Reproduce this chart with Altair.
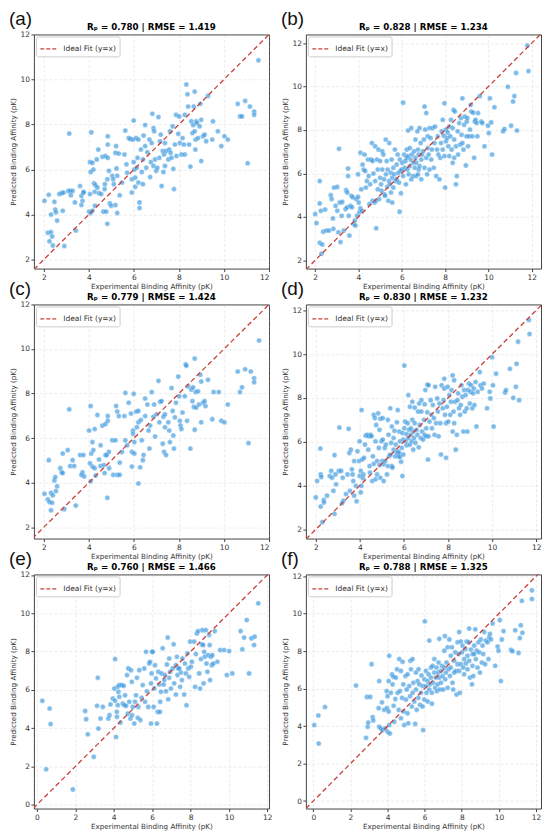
import altair as alt
import pandas as pd

# ---------------- data ----------------
labels = ["(a)", "(b)", "(c)", "(d)", "(e)", "(f)"]
titles = [
    "Rₚ = 0.780 | RMSE = 1.419",
    "Rₚ = 0.828 | RMSE = 1.234",
    "Rₚ = 0.779 | RMSE = 1.424",
    "Rₚ = 0.830 | RMSE = 1.232",
    "Rₚ = 0.760 | RMSE = 1.466",
    "Rₚ = 0.788 | RMSE = 1.325",
]
x_domains = [[1.56, 12.0], [1.57, 12.43], [1.56, 12.0], [1.55, 12.22], [-0.16, 12.09], [-0.4, 12.27]]
y_domains = [[1.6, 12.0], [1.62, 12.4], [1.49, 12.0], [1.58, 12.27], [-0.2, 12.03], [-0.4, 12.1]]
ticks_abcd = [2, 4, 6, 8, 10, 12]
ticks_ef = [0, 2, 4, 6, 8, 10, 12]

points_a = [
(2.03,4.61),(2.22,4.88),(2.18,3.19),(2.32,3.22),(2.25,2.81),(2.37,3.03),(2.40,2.63),(2.32,4.0),(2.47,4.57),(2.51,4.22),
(2.54,4.1),(2.59,3.73),(2.69,4.91),(2.79,4.95),(2.88,4.98),(2.84,4.17),(2.91,2.6),(3.09,5.05),(3.17,5.05),(3.28,5.05),
(3.2,4.86),(3.13,7.6),(3.38,4.54),(3.42,3.29),(3.61,5.27),(3.67,4.83),(3.72,4.61),(3.67,4.42),(3.76,5.01),(3.77,4.98),
(4.05,4.91),(4.01,4.13),(4.08,4.07),(4.16,4.17),(4.11,7.65),(4.05,6.33),(4.16,6.3),(4.08,5.89),(4.2,6.0),(4.23,5.39),
(4.3,5.3),(4.26,5.01),(4.27,4.39),(4.35,6.45),(4.42,6.89),(4.38,5.2),(4.45,4.95),(4.55,4.91),(4.6,6.57),(4.64,4.13),
(4.7,5.13),(4.74,6.6),(4.71,5.35),(4.77,4.13),(4.82,3.59),(4.84,7.48),(4.84,7.11),(4.84,6.52),(4.82,5.57),(4.89,5.94),
(4.93,4.5),(5.04,5.72),(5.08,5.57),(4.99,4.39),(5.11,5.35),(5.18,4.42),(5.21,7.04),(5.18,6.74),(5.23,6.05),(5.26,5.72),
(5.26,4.07),(5.33,6.71),(5.37,4.86),(5.47,5.42),(5.58,6.67),(5.62,7.73),(5.67,6.23),(5.7,5.86),(5.77,7.4),(5.84,7.36),
(5.91,4.98),(5.91,5.57),(5.96,7.33),(5.99,8.18),(5.99,6.33),(6.02,6.0),(6.06,5.64),(6.06,5.23),(6.1,7.4),(6.13,6.08),
(6.16,6.52),(6.2,7.33),(6.2,5.42),(6.25,4.54),(6.25,4.29),(6.31,6.89),(6.35,5.89),(6.4,6.45),(6.4,5.35),(6.43,7.51),
(6.5,7.98),(6.5,7.04),(6.55,6.08),(6.6,6.77),(6.69,7.33),(6.72,5.67),(6.75,6.33),(6.79,7.18),(6.82,8.48),(6.87,7.84),
(6.9,7.7),(6.94,6.45),(6.87,6.16),(6.99,5.94),(7.04,6.08),(7.09,8.33),(7.13,6.52),(7.16,7.25),(7.19,7.55),(7.23,5.27),
(7.28,6.82),(7.31,5.89),(7.34,6.67),(7.38,7.18),(7.38,6.16),(7.43,6.82),(7.53,6.45),(7.57,6.89),(7.6,7.7),(7.63,6.74),
(7.67,6.52),(7.72,7.92),(7.75,6.03),(7.78,5.13),(7.82,7.11),(7.87,8.43),(7.89,6.6),(7.97,7.59),(8.01,8.36),(8.04,7.18),
(8.11,6.67),(8.16,7.4),(8.22,7.11),(8.26,8.43),(8.26,6.67),(8.33,9.78),(8.38,9.34),(8.41,8.8),(8.45,7.11),(8.51,6.13),
(8.55,8.14),(8.6,7.62),(8.63,7.98),(8.66,8.8),(8.7,9.46),(8.7,7.7),(8.73,6.89),(8.74,7.33),(8.77,8.14),(8.8,8.06),
(8.85,7.4),(8.92,7.92),(8.95,8.92),(8.99,8.21),(8.99,6.38),(9.07,7.48),(9.14,7.55),(9.21,7.26),(9.29,9.27),(9.48,7.33),
(9.51,8.14),(9.73,7.7),(9.88,7.04),(10.02,7.48),(10.17,7.33),(10.61,8.92),(10.71,8.36),(10.8,8.36),(10.94,9.05),(11.05,6.28),
(11.15,8.8),(11.34,8.58),(11.34,8.43),(11.53,10.85),
]

points_b = [
(2.0,4.13),(2.06,3.72),(2.21,5.65),(2.21,4.62),(2.26,4.28),(2.21,2.81),(2.33,2.73),(2.29,2.3),(2.37,3.32),(2.46,4.34),
(2.52,3.37),(2.64,3.37),(2.72,5.0),(2.76,4.82),(2.82,3.93),(2.84,3.45),(2.87,5.35),(2.94,4.51),(3.02,5.38),(3.02,4.28),
(3.07,3.29),(3.1,7.14),(3.13,4.66),(3.17,2.84),(3.22,4.05),(3.25,4.69),(3.32,3.37),(3.4,4.36),(3.43,5.23),(3.48,5.12),
(3.48,4.44),(3.52,6.23),(3.52,5.88),(3.55,4.05),(3.58,3.14),(3.63,4.51),(3.67,4.97),(3.7,4.44),(3.74,4.9),(3.78,3.67),
(3.83,3.83),(3.86,3.6),(3.89,4.82),(3.93,4.05),(3.98,5.96),(3.98,4.92),(4.01,4.66),(4.04,4.21),(4.09,6.95),(4.09,4.39),
(4.13,5.27),(4.16,4.28),(4.19,6.41),(4.24,6.18),(4.28,6.87),(4.31,6.11),(4.34,5.35),(4.39,5.65),(4.44,6.64),(4.47,5.88),
(4.5,4.59),(4.54,5.5),(4.59,6.64),(4.62,7.4),(4.65,4.74),(4.65,6.57),(4.69,6.0),(4.74,4.66),(4.77,7.25),(4.77,5.65),
(4.8,4.74),(4.82,3.48),(4.85,6.64),(4.89,5.27),(4.89,6.18),(4.92,7.1),(4.95,4.82),(5.0,6.57),(5.0,5.8),(5.04,5.5),
(5.07,5.2),(5.1,7.02),(5.1,6.18),(5.15,6.87),(5.18,5.73),(5.2,5.04),(5.23,4.97),(5.26,7.56),(5.27,5.96),(5.3,6.57),
(5.33,5.39),(5.35,6.18),(5.38,4.74),(5.41,5.65),(5.42,7.4),(5.45,5.5),(5.49,6.03),(5.5,5.12),(5.53,6.64),(5.56,5.8),
(5.56,4.66),(5.61,6.26),(5.61,5.35),(5.65,5.96),(5.68,7.1),(5.71,5.65),(5.76,6.41),(5.76,5.73),(5.81,6.87),(5.84,6.03),
(5.87,5.58),(5.9,4.24),(5.91,6.64),(5.94,6.11),(5.96,5.09),(5.99,6.18),(6.02,6.49),(6.06,9.26),(6.06,5.88),(6.11,6.87),
(6.14,6.26),(6.17,6.57),(6.19,5.5),(6.22,6.72),(6.23,7.1),(6.26,6.18),(6.29,7.98),(6.29,6.8),(6.32,5.96),(6.37,6.34),
(6.37,7.17),(6.41,6.64),(6.44,8.09),(6.44,5.73),(6.47,6.87),(6.52,5.88),(6.52,6.49),(6.57,7.02),(6.6,6.26),(6.63,7.56),
(6.63,6.72),(6.67,5.88),(6.67,6.49),(6.72,7.94),(6.75,7.1),(6.75,5.96),(6.78,6.87),(6.78,6.18),(6.82,6.34),(6.82,8.09),
(6.87,7.4),(6.9,5.73),(6.9,6.64),(6.93,6.87),(6.98,7.02),(7.02,7.56),(7.05,6.26),(7.05,9.08),(7.08,8.02),(7.13,6.72),
(7.13,8.78),(7.17,5.96),(7.2,7.71),(7.2,7.17),(7.24,6.87),(7.28,8.09),(7.28,6.18),(7.33,7.63),(7.36,6.64),(7.39,7.1),
(7.43,8.09),(7.48,6.26),(7.51,7.4),(7.54,8.16),(7.59,5.88),(7.63,7.1),(7.66,7.71),(7.69,6.87),(7.74,5.73),(7.78,6.72),
(7.81,7.4),(7.84,7.94),(7.89,8.47),(7.89,7.1),(7.94,7.74),(7.97,9.23),(7.97,6.8),(8.0,5.35),(8.04,7.48),(8.04,8.02),
(8.09,7.63),(8.12,7.89),(8.15,7.25),(8.19,8.16),(8.19,6.8),(8.24,7.71),(8.27,8.47),(8.3,7.1),(8.35,8.09),(8.35,6.49),
(8.39,8.93),(8.42,6.72),(8.42,7.56),(8.45,8.85),(8.5,7.25),(8.5,5.5),(8.54,5.88),(8.58,7.94),(8.6,6.87),(8.65,8.32),
(8.7,7.33),(8.73,8.55),(8.76,7.78),(8.8,9.46),(8.8,7.4),(8.85,7.1),(8.88,8.24),(8.91,8.62),(8.96,6.37),(8.99,7.71),
(9.0,8.39),(9.03,8.55),(9.06,7.25),(9.11,7.71),(9.15,8.02),(9.18,9.15),(9.21,8.85),(9.26,7.71),(9.3,8.8),(9.34,6.72),
(9.37,8.39),(9.41,8.47),(9.46,8.32),(9.49,7.71),(9.52,8.78),(9.61,9.56),(9.67,8.39),(9.72,8.32),(9.82,7.25),(9.98,8.2),
(10.02,7.86),(10.07,9.46),(10.13,8.35),(10.17,6.87),(10.28,9.05),(10.68,7.94),(10.74,8.05),(10.9,9.99),(11.05,8.2),(11.14,9.31),
(11.2,9.56),(11.28,10.63),(11.32,7.98),(11.8,11.89),(11.85,10.72),
]

points_c = [
(2.03,3.5),(2.22,5.01),(2.18,3.25),(2.25,3.13),(2.32,2.76),(2.37,3.1),(2.32,3.54),(2.4,3.43),(2.47,4.1),(2.51,4.25),
(2.54,3.62),(2.59,3.84),(2.73,4.65),(2.79,4.46),(2.84,5.31),(2.91,2.81),(2.84,4.43),(3.06,5.46),(3.13,7.29),(3.17,4.75),
(3.28,5.01),(3.35,4.75),(3.42,2.97),(3.61,5.24),(3.72,4.46),(3.76,5.24),(3.67,4.35),(3.79,4.28),(4.01,6.34),(4.08,7.44),
(4.05,4.87),(4.08,4.06),(4.11,5.31),(4.16,5.82),(4.16,4.72),(4.2,5.46),(4.26,6.41),(4.26,4.65),(4.3,4.32),(4.38,7.04),
(4.45,5.04),(4.52,5.68),(4.52,4.75),(4.6,6.56),(4.67,4.79),(4.7,4.43),(4.74,5.24),(4.74,6.63),(4.79,5.24),(4.82,3.32),
(4.84,6.99),(4.84,6.78),(4.89,5.38),(4.9,4.65),(5.04,5.9),(5.08,4.35),(5.18,5.9),(5.21,7.44),(5.26,7.19),(5.26,4.35),
(5.33,6.99),(5.37,4.35),(5.37,4.9),(5.47,5.38),(5.58,6.99),(5.62,8.03),(5.62,5.9),(5.7,5.68),(5.77,7.59),(5.87,7.1),
(5.91,4.72),(5.91,5.38),(5.96,6.34),(5.96,6.19),(5.99,7.99),(6.02,5.82),(6.02,5.31),(6.1,7.19),(6.13,6.49),(6.2,7.22),
(6.2,6.71),(6.2,3.96),(6.28,4.69),(6.31,6.81),(6.35,5.9),(6.4,5.01),(6.43,5.24),(6.5,7.78),(6.5,6.99),(6.6,7.51),
(6.65,6.34),(6.69,5.53),(6.72,6.56),(6.79,8.07),(6.87,6.96),(6.9,7.51),(6.94,6.07),(7.01,7.07),(7.09,8.57),(7.13,6.71),
(7.16,7.63),(7.23,7.66),(7.28,5.75),(7.31,6.96),(7.34,5.38),(7.38,7.07),(7.38,6.49),(7.43,5.24),(7.53,6.71),(7.57,6.34),
(7.6,5.82),(7.67,8.25),(7.72,7.22),(7.75,6.12),(7.78,5.53),(7.82,6.93),(7.87,7.59),(7.97,8.76),(8.01,7.88),(8.04,6.78),
(8.07,6.56),(8.11,6.41),(8.16,7.15),(8.26,7.88),(8.3,9.31),(8.33,9.25),(8.36,6.78),(8.41,8.32),(8.51,5.53),(8.55,8.18),
(8.6,7.66),(8.63,8.28),(8.66,7.4),(8.7,9.57),(8.7,6.38),(8.74,8.07),(8.77,7.37),(8.85,8.1),(8.89,7.51),(8.95,8.84),
(8.99,8.54),(8.99,6.71),(9.07,7.59),(9.14,7.66),(9.18,7.44),(9.29,8.62),(9.48,6.85),(9.54,8.07),(9.77,8.07),(9.88,6.78),
(10.02,6.71),(10.17,7.51),(10.61,8.99),(10.71,8.07),(10.8,8.28),(10.94,9.09),(11.09,5.78),(11.19,8.99),(11.34,8.69),(11.34,8.51),
(11.56,10.38),
]

points_d = [
(2.0,3.46),(2.06,4.21),(2.21,5.69),(2.22,4.51),(2.25,4.39),(2.22,3.04),(2.3,2.33),(2.36,3.34),(2.37,3.23),(2.51,3.54),
(2.63,4.44),(2.7,4.67),(2.74,4.36),(2.8,3.76),(2.85,5.39),(2.85,2.71),(2.89,4.51),(2.92,4.06),(3.04,4.67),(3.07,6.65),
(3.15,4.67),(3.19,3.19),(3.22,4.36),(3.25,3.31),(3.37,3.61),(3.44,4.51),(3.49,6.59),(3.52,5.49),(3.55,3.76),(3.59,5.64),
(3.64,4.74),(3.67,4.51),(3.7,4.21),(3.74,3.54),(3.74,5.12),(3.82,3.99),(3.85,3.28),(3.89,5.57),(3.96,5.12),(3.99,4.44),
(3.99,6.02),(4.04,4.67),(4.04,3.69),(4.07,3.99),(4.08,7.45),(4.11,5.19),(4.14,4.33),(4.16,4.51),(4.19,5.27),(4.23,5.87),
(4.26,6.28),(4.34,6.32),(4.38,5.64),(4.41,6.25),(4.44,4.89),(4.46,4.59),(4.49,6.32),(4.53,6.25),(4.56,4.21),(4.59,5.34),
(4.63,7.23),(4.63,4.99),(4.68,7.08),(4.71,4.29),(4.71,6.02),(4.74,6.77),(4.78,5.12),(4.78,4.51),(4.83,7.3),(4.86,5.72),
(4.89,6.55),(4.89,4.94),(4.93,7.05),(4.93,4.36),(4.98,6.02),(5.01,5.12),(5.04,6.1),(5.04,7.08),(5.08,4.97),(5.08,4.21),
(5.13,5.72),(5.15,5.12),(5.18,5.87),(5.23,4.51),(5.27,7.0),(5.27,4.89),(5.3,6.32),(5.33,5.34),(5.38,5.42),(5.38,7.53),
(5.42,5.95),(5.45,6.7),(5.45,4.89),(5.48,4.82),(5.53,6.17),(5.53,5.64),(5.57,6.5),(5.6,5.34),(5.63,5.87),(5.68,5.49),
(5.68,6.89),(5.72,5.57),(5.72,7.45),(5.75,5.34),(5.78,6.47),(5.79,5.49),(5.82,6.02),(5.82,5.3),(5.87,5.09),(5.9,5.72),
(5.93,4.44),(5.93,6.4),(5.97,6.1),(5.97,5.42),(6.02,6.62),(6.02,9.48),(6.05,6.92),(6.08,6.02),(6.12,6.35),(6.12,5.84),
(6.17,6.85),(6.2,6.17),(6.2,8.13),(6.23,6.55),(6.27,7.6),(6.27,5.87),(6.32,6.62),(6.32,6.32),(6.35,6.02),(6.38,7.83),
(6.38,7.0),(6.42,6.47),(6.42,5.64),(6.46,6.17),(6.49,6.85),(6.49,7.56),(6.52,5.95),(6.57,6.55),(6.61,6.32),(6.64,7.38),
(6.67,5.75),(6.69,7.75),(6.72,6.77),(6.76,6.17),(6.79,7.38),(6.79,7.9),(6.82,6.47),(6.87,6.1),(6.91,7.0),(6.94,7.71),
(6.94,6.32),(6.97,8.36),(7.01,6.62),(7.01,6.25),(7.06,7.35),(7.06,8.61),(7.09,5.19),(7.12,6.25),(7.12,8.58),(7.16,6.92),
(7.21,7.9),(7.24,7.23),(7.27,6.62),(7.31,7.68),(7.36,7.08),(7.39,6.32),(7.42,8.51),(7.46,6.85),(7.51,7.98),(7.54,7.38),
(7.57,6.25),(7.61,7.75),(7.65,6.85),(7.68,5.42),(7.71,8.58),(7.76,7.53),(7.8,7.9),(7.83,8.43),(7.83,8.88),(7.86,7.23),
(7.91,5.27),(7.91,6.85),(7.95,7.6),(7.98,8.51),(8.01,6.92),(8.06,8.13),(8.1,7.23),(8.13,7.83),(8.16,8.36),(8.21,9.03),
(8.21,6.47),(8.25,7.38),(8.28,8.81),(8.28,6.85),(8.31,7.83),(8.35,5.64),(8.4,6.32),(8.43,7.9),(8.46,8.21),(8.5,7.53),
(8.55,7.23),(8.58,7.68),(8.61,8.58),(8.65,8.06),(8.7,6.47),(8.73,8.36),(8.76,7.38),(8.8,8.13),(8.85,7.53),(8.88,6.47),
(8.9,8.36),(8.95,8.66),(8.99,7.75),(9.02,8.28),(9.05,8.58),(9.1,7.53),(9.14,8.21),(9.17,8.43),(9.2,7.68),(9.25,8.73),
(9.29,6.7),(9.35,8.28),(9.44,9.18),(9.47,8.58),(9.54,8.43),(9.62,8.66),(9.77,7.53),(9.89,8.28),(9.92,7.98),(10.0,9.86),
(10.04,8.58),(10.07,6.7),(10.18,9.11),(10.59,8.25),(10.63,8.36),(10.81,9.33),(10.96,8.01),(11.08,8.51),(11.11,9.56),(11.18,10.57),
(11.23,7.9),(11.67,11.56),(11.7,10.92),
]

points_e = [
(0.28,5.43),(0.48,1.85),(0.66,5.03),(0.71,4.21),(1.87,0.8),(2.51,4.9),(2.56,4.47),(2.65,3.68),(2.96,2.5),(3.13,5.17),
(3.17,6.63),(3.2,3.98),(3.31,4.5),(3.43,5.11),(3.72,4.5),(3.78,4.68),(3.83,5.24),(3.95,5.55),(4.03,6.07),(4.07,7.61),
(4.07,5.43),(4.12,3.54),(4.16,4.85),(4.17,4.59),(4.21,6.16),(4.21,5.2),(4.24,5.9),(4.29,6.25),(4.29,5.64),(4.35,4.29),
(4.42,6.25),(4.47,5.29),(4.52,6.21),(4.55,5.2),(4.59,5.72),(4.64,5.17),(4.69,6.77),(4.73,4.76),(4.76,7.12),(4.81,5.38),
(4.87,4.5),(4.9,7.03),(4.94,6.42),(4.95,4.68),(4.99,5.11),(5.07,4.24),(5.11,5.38),(5.16,5.72),(5.21,6.63),(5.25,4.54),
(5.28,5.11),(5.33,7.03),(5.39,4.42),(5.45,5.58),(5.51,6.25),(5.59,7.12),(5.63,5.38),(5.68,7.99),(5.73,5.93),(5.8,5.11),
(5.85,7.38),(5.89,7.47),(5.94,4.24),(5.94,6.34),(5.97,6.86),(5.99,7.99),(6.03,7.99),(6.08,5.11),(6.11,6.07),(6.15,7.29),
(6.2,6.6),(6.25,4.24),(6.29,4.85),(6.32,6.95),(6.37,6.28),(6.41,4.85),(6.42,5.38),(6.46,5.9),(6.49,6.86),(6.55,8.17),
(6.6,6.28),(6.63,6.51),(6.67,6.77),(6.72,5.93),(6.77,7.33),(6.81,8.73),(6.84,5.51),(6.89,7.64),(6.89,6.63),(6.94,6.95),
(6.98,6.07),(7.07,7.12),(7.12,8.38),(7.15,6.34),(7.24,7.29),(7.24,5.76),(7.29,7.73),(7.32,6.77),(7.36,7.12),(7.41,7.12),
(7.46,6.16),(7.5,6.91),(7.55,6.51),(7.58,7.64),(7.67,5.76),(7.71,7.38),(7.76,6.86),(7.79,5.2),(7.84,7.91),(7.88,7.12),
(7.93,6.68),(7.98,8.52),(8.02,7.21),(8.07,7.47),(8.19,8.52),(8.24,6.16),(8.28,7.87),(8.33,8.95),(8.4,9.07),(8.45,6.86),
(8.5,6.07),(8.54,7.61),(8.59,8.38),(8.62,9.12),(8.66,8.34),(8.68,6.34),(8.71,7.99),(8.74,7.73),(8.8,9.12),(8.83,7.38),
(8.88,6.95),(8.92,7.82),(8.97,8.87),(9.0,8.34),(9.02,6.51),(9.06,7.73),(9.11,7.29),(9.14,7.82),(9.19,7.38),(9.26,9.07),
(9.4,7.47),(9.54,8.08),(9.75,8.08),(9.89,6.77),(10.01,8.03),(10.18,6.86),(10.61,9.07),(10.7,8.12),(10.79,8.73),(10.93,9.65),
(11.05,6.86),(11.17,8.69),(11.31,8.34),(11.34,8.78),(11.53,10.52),
]

points_f = [
(0.05,4.06),(0.27,4.57),(0.29,3.07),(0.63,5.02),(2.3,6.17),(2.84,3.38),(2.89,5.56),(2.93,3.97),(2.96,4.19),(3.07,5.56),
(3.14,7.31),(3.2,4.48),(3.23,4.3),(3.52,4.96),(3.55,6.41),(3.55,3.97),(3.64,3.88),(3.7,5.27),(3.73,3.79),(3.82,4.87),
(3.88,3.88),(3.95,5.87),(3.97,4.96),(4.0,5.6),(4.0,3.7),(4.06,6.41),(4.06,4.78),(4.09,7.76),(4.09,4.06),(4.13,3.61),
(4.18,5.78),(4.24,6.77),(4.27,6.23),(4.31,6.64),(4.33,5.09),(4.36,4.24),(4.42,5.45),(4.45,6.59),(4.51,7.04),(4.54,5.78),
(4.6,4.87),(4.63,7.58),(4.67,5.87),(4.72,4.42),(4.72,6.95),(4.78,5.51),(4.81,7.44),(4.85,6.23),(4.87,4.78),(4.9,4.06),
(4.96,6.68),(4.99,5.42),(5.03,5.96),(5.08,4.69),(5.08,6.77),(5.12,4.15),(5.17,6.14),(5.21,5.6),(5.23,7.49),(5.26,7.04),
(5.31,5.05),(5.35,5.78),(5.35,7.58),(5.39,6.32),(5.44,5.32),(5.49,4.12),(5.53,6.86),(5.53,5.96),(5.57,4.87),(5.62,6.41),
(5.66,5.51),(5.67,7.04),(5.71,6.23),(5.75,5.14),(5.8,5.78),(5.83,6.71),(5.89,6.14),(5.89,5.05),(5.92,3.79),(5.98,6.5),
(5.98,5.42),(6.01,9.6),(6.07,6.14),(6.07,6.95),(6.1,5.78),(6.16,6.41),(6.16,5.32),(6.21,6.77),(6.25,8.57),(6.25,5.96),
(6.28,6.23),(6.34,7.13),(6.34,6.59),(6.39,5.78),(6.39,5.2),(6.43,7.22),(6.46,6.32),(6.52,6.86),(6.52,7.58),(6.57,6.05),
(6.61,6.59),(6.64,7.13),(6.66,5.87),(6.7,6.23),(6.73,6.86),(6.75,7.4),(6.79,8.66),(6.79,6.59),(6.82,5.96),(6.88,6.95),
(6.88,6.32),(6.93,7.22),(6.97,6.68),(7.0,5.96),(7.06,8.03),(7.06,7.13),(7.09,8.81),(7.11,6.5),(7.15,6.86),(7.18,7.4),
(7.24,6.05),(7.24,8.21),(7.29,7.04),(7.33,8.63),(7.36,6.68),(7.41,7.76),(7.41,7.13),(7.47,8.21),(7.5,6.32),(7.54,5.96),
(7.59,6.86),(7.59,7.49),(7.65,7.94),(7.68,6.95),(7.72,5.69),(7.77,8.48),(7.77,7.31),(7.83,7.85),(7.86,9.03),(7.86,6.95),
(7.9,5.78),(7.95,8.52),(7.95,7.31),(8.01,7.94),(8.04,8.3),(8.08,7.13),(8.13,7.58),(8.13,6.77),(8.19,8.12),(8.22,7.35),
(8.26,8.52),(8.31,7.76),(8.31,7.04),(8.37,8.48),(8.4,9.21),(8.4,7.49),(8.44,6.59),(8.49,8.09),(8.55,6.23),(8.58,7.85),
(8.58,7.22),(8.62,6.68),(8.67,8.3),(8.67,7.85),(8.73,9.17),(8.76,7.58),(8.8,8.03),(8.85,7.13),(8.9,8.48),(8.94,7.94),
(8.98,6.86),(9.03,8.63),(9.08,7.4),(9.12,8.3),(9.16,7.85),(9.21,9.03),(9.26,7.31),(9.3,8.57),(9.39,8.48),(9.44,7.58),
(9.48,8.75),(9.52,8.93),(9.57,8.63),(9.66,9.48),(9.8,7.22),(9.93,8.25),(9.98,8.03),(10.05,9.66),(10.11,6.41),(10.16,8.63),
(10.25,9.08),(10.65,8.07),(10.74,8.0),(10.88,9.12),(11.06,7.91),(11.13,8.7),(11.18,9.39),(11.24,10.69),(11.27,8.99),(11.78,11.25),
(11.78,10.79),
]

all_points = [points_a, points_b, points_c, points_d, points_e, points_f]
tick_sets = [ticks_abcd, ticks_abcd, ticks_abcd, ticks_abcd, ticks_ef, ticks_ef]
fit_label = "Ideal Fit (y=x)"

# ---------------- styling ----------------
POINT_COLOR = "#2f92dd"
LINE_COLOR = "#c8413a"
FONT = "DejaVu Sans"
W, H = 236, 235


def panel(i):
    df = pd.DataFrame(all_points[i], columns=["exp", "pred"])
    xd, yd = x_domains[i], y_domains[i]
    lo, hi = min(xd[0], yd[0]), max(xd[1], yd[1])
    line_df = pd.DataFrame({"exp": [lo, hi], "pred": [lo, hi], "k": [fit_label, fit_label]})
    ticks = tick_sets[i]
    xs = alt.Scale(domain=xd, nice=False, zero=False)
    ys = alt.Scale(domain=yd, nice=False, zero=False)
    xax = alt.Axis(values=ticks, title="Experimental Binding Affinity (pK)", format="d",
                   labelOverlap=False, tickCount=len(ticks))
    yax = alt.Axis(values=ticks, title="Predicted Binding Affinity (pK)", format="d",
                   labelOverlap=False, tickCount=len(ticks))

    pts = alt.Chart(df).mark_circle(
        size=26, color=POINT_COLOR, opacity=0.62, stroke="white", strokeWidth=0.4
    ).encode(
        x=alt.X("exp:Q", scale=xs, axis=xax),
        y=alt.Y("pred:Q", scale=ys, axis=yax),
    )
    line = alt.Chart(line_df).mark_line(
        strokeDash=[5, 3], strokeWidth=1.3, clip=True
    ).encode(
        x=alt.X("exp:Q", scale=xs, axis=xax),
        y=alt.Y("pred:Q", scale=ys, axis=yax),
        color=alt.Color(
            "k:N",
            scale=alt.Scale(domain=[fit_label], range=[LINE_COLOR]),
            legend=alt.Legend(
                title=None, orient="top-left", offset=2, padding=3.5,
                symbolType="stroke", symbolSize=260, symbolStrokeWidth=1.3,
                symbolDash=[4, 2], labelFontSize=7.5, labelFont=FONT,
                labelColor="#333", fillColor="white", strokeColor="#cccccc",
                cornerRadius=2, labelOffset=6,
            ),
        ),
    )
    lab = alt.Chart(pd.DataFrame({"t": [labels[i]]})).mark_text(
        align="left", baseline="top", fontSize=19, font="Liberation Sans", color="#111"
    ).encode(text="t:N", x=alt.value(-25), y=alt.value(-24))
    ttl = alt.Chart(pd.DataFrame({"t": [titles[i]]})).mark_text(
        align="center", baseline="bottom", fontSize=8.7, font=FONT, fontWeight="bold", color="#000"
    ).encode(text="t:N", x=alt.value(W / 2), y=alt.value(-2))

    return alt.layer(pts, line, lab, ttl).properties(width=W, height=H)


chart = alt.concat(
    *[panel(i) for i in range(6)],
    columns=2, spacing={"row": 36, "column": 37}, bounds="flush",
).resolve_scale(color="independent").resolve_legend(color="independent").properties(
    padding=0
).configure_view(
    stroke="#444", strokeWidth=1
).configure_axis(
    labelFont=FONT, labelFontSize=7.5, labelColor="#333", labelPadding=1.5,
    titleFont=FONT, titleFontSize=7.2, titleFontWeight="normal", titleColor="#333",
    titlePadding=2, tickColor="#444", tickSize=3, domain=False, labelOverlap=False,
    gridColor="#b0b0b0", gridOpacity=0.35, gridDash=[3, 2], gridWidth=0.7,
)

chart.save("out.html", embed_options={"renderer": "svg", "actions": False})
